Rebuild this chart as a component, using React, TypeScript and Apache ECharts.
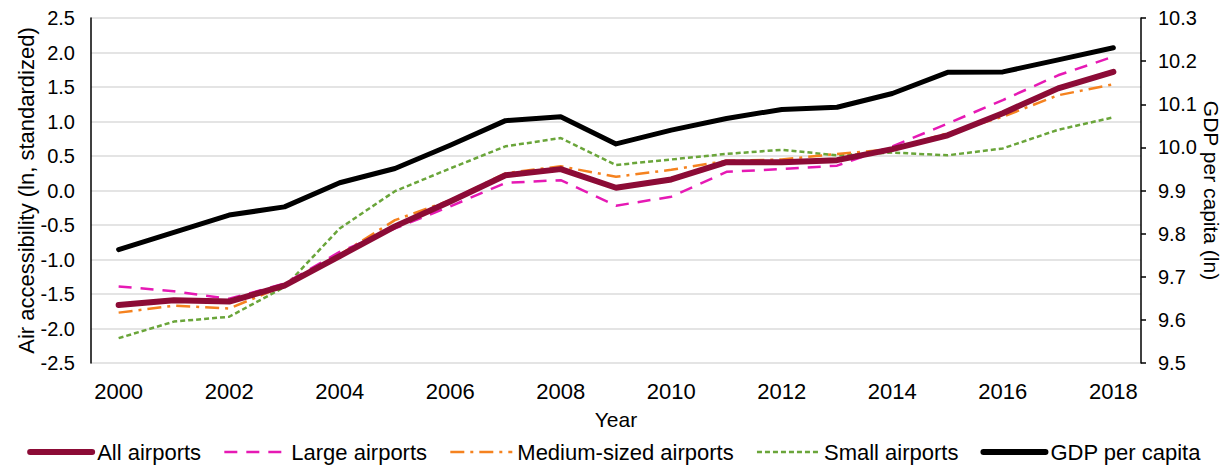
import React, { useEffect, useRef } from "react";
import * as echarts from "echarts";

const years = ["2000","2001","2002","2003","2004","2005","2006","2007","2008","2009","2010","2011","2012","2013","2014","2015","2016","2017","2018"];
const allAirports = [-1.66,-1.59,-1.61,-1.38,-0.95,-0.52,-0.16,0.22,0.31,0.04,0.16,0.41,0.41,0.44,0.60,0.80,1.12,1.48,1.72];
const largeAirports = [-1.39,-1.46,-1.57,-1.35,-0.89,-0.55,-0.23,0.11,0.15,-0.22,-0.09,0.27,0.31,0.36,0.64,0.97,1.31,1.67,1.94];
const mediumAirports = [-1.77,-1.67,-1.71,-1.38,-0.93,-0.43,-0.14,0.25,0.35,0.20,0.30,0.43,0.45,0.53,0.60,0.83,1.07,1.38,1.54];
const smallAirports = [-2.14,-1.90,-1.83,-1.40,-0.55,-0.01,0.32,0.64,0.76,0.37,0.45,0.53,0.59,0.51,0.55,0.51,0.61,0.88,1.06];
const gdpPerCapita = [9.763,9.803,9.843,9.862,9.918,9.951,10.005,10.062,10.071,10.008,10.040,10.067,10.088,10.093,10.125,10.174,10.175,10.203,10.231];

const FONT = "'Liberation Sans', Arial, sans-serif";

export default function App() {
  const ref = useRef<HTMLDivElement>(null);
  useEffect(() => {
    document.body.style.margin = "0";
    const chart = echarts.init(ref.current!, null, { renderer: "svg" });
    chart.setOption({
      animation: false,
      backgroundColor: "#ffffff",
      textStyle: { fontFamily: FONT, color: "#000" },
      grid: { left: 91, right: 87, top: 18, bottom: 105, containLabel: false, outerBoundsMode: "none" },
      legend: {
        bottom: 0,
        left: "center",
        itemWidth: 62,
        itemHeight: 14,
        itemGap: 22,
        itemStyle: { opacity: 0 },
        textStyle: { fontSize: 22, fontFamily: FONT, color: "#000" },
        data: [
          { name: "All airports", lineStyle: { width: 6 } },
          { name: "Large airports", lineStyle: { width: 2.5 } },
          { name: "Medium-sized airports", lineStyle: { width: 2.5 } },
          { name: "Small airports", lineStyle: { width: 2.5 } },
          { name: "GDP per capita", lineStyle: { width: 6 } },
        ],
      },
      xAxis: {
        type: "category",
        data: years,
        boundaryGap: true,
        name: "Year",
        nameLocation: "middle",
        nameGap: 46,
        nameMoveOverlap: false,
        nameTextStyle: { fontSize: 21, fontFamily: FONT, color: "#000" },
        axisLine: { show: false },
        axisTick: { show: false },
        axisLabel: { interval: 1, fontSize: 22, margin: 17, color: "#000", fontFamily: FONT },
        splitLine: { show: false },
      },
      yAxis: [
        {
          type: "value",
          min: -2.5,
          max: 2.5,
          interval: 0.5,
          name: "Air accessibility (ln, standardized)",
          nameLocation: "middle",
          nameGap: 54,
          nameMoveOverlap: false,
          nameTextStyle: { fontSize: 22, fontFamily: FONT, color: "#000" },
          axisLine: { show: true, lineStyle: { color: "#000", width: 1.5 } },
          axisTick: { show: false },
          axisLabel: { fontSize: 20, margin: 16, color: "#000", fontFamily: FONT, formatter: (v: number) => v.toFixed(1) },
          splitLine: { show: true, lineStyle: { color: "#e4e4e4", width: 2 } },
        },
        {
          type: "value",
          position: "right",
          min: 9.5,
          max: 10.3,
          interval: 0.1,
          name: "GDP per capita (ln)",
          nameLocation: "middle",
          nameGap: 60,
          nameMoveOverlap: false,
          nameRotate: -90,
          nameTextStyle: { fontSize: 21, fontFamily: FONT, color: "#000" },
          axisLine: { show: true, lineStyle: { color: "#000", width: 1.5 } },
          axisTick: { show: true, length: 5, inside: false, lineStyle: { color: "#000", width: 1.5 } },
          axisLabel: { fontSize: 20, margin: 17, color: "#000", fontFamily: FONT, formatter: (v: number) => v.toFixed(1) },
          splitLine: { show: false },
        },
      ],
      series: [
        {
          name: "Small airports",
          type: "line",
          data: smallAirports,
          yAxisIndex: 0,
          symbol: "none",
          z: 2,
          color: "#6aa53a",
          lineStyle: { color: "#6aa53a", width: 2.5, type: [5, 3] },
        },
        {
          name: "Medium-sized airports",
          type: "line",
          data: mediumAirports,
          yAxisIndex: 0,
          symbol: "none",
          z: 3,
          color: "#f5821f",
          lineStyle: { color: "#f5821f", width: 2.5, type: [14, 6, 3, 6] },
        },
        {
          name: "Large airports",
          type: "line",
          data: largeAirports,
          yAxisIndex: 0,
          symbol: "none",
          z: 4,
          color: "#e619b4",
          lineStyle: { color: "#e619b4", width: 2.5, type: [13, 9] },
        },
        {
          name: "All airports",
          type: "line",
          data: allAirports,
          yAxisIndex: 0,
          symbol: "none",
          z: 5,
          color: "#8c0b36",
          lineStyle: { color: "#8c0b36", width: 6, cap: "round", join: "round" },
        },
        {
          name: "GDP per capita",
          type: "line",
          data: gdpPerCapita,
          yAxisIndex: 1,
          symbol: "none",
          z: 6,
          color: "#000000",
          lineStyle: { color: "#000000", width: 5, cap: "round", join: "round" },
        },
      ],
    });
    return () => chart.dispose();
  }, []);
  return <div ref={ref} style={{ width: 1228, height: 468 }} />;
}
